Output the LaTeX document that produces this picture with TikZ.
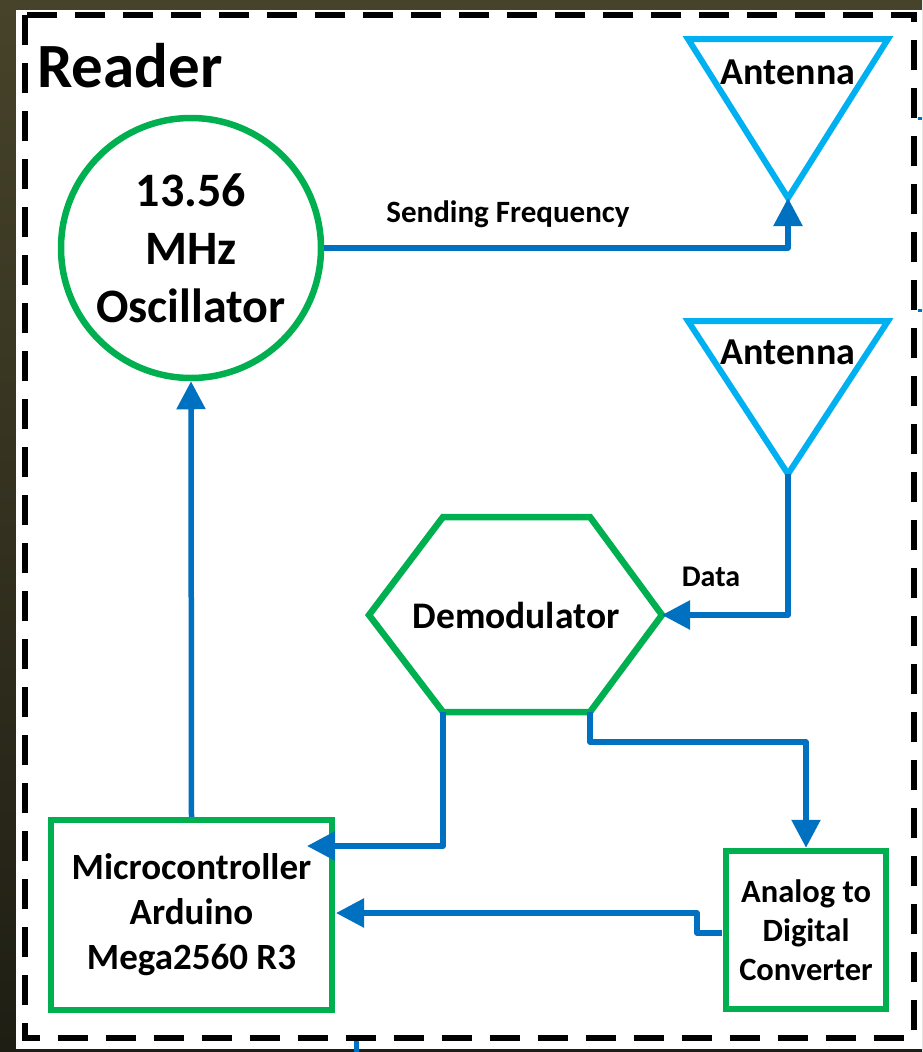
\documentclass[tikz,border=0pt]{standalone}
\usepackage{fontspec}
\setmainfont{Carlito}
\usetikzlibrary{arrows.meta}
\definecolor{boxgreen}{HTML}{00B050}
\definecolor{wireblue}{HTML}{0070C0}
\definecolor{antblue}{HTML}{00B0F0}
\definecolor{olivetop}{HTML}{47432A}
\definecolor{olivebot}{HTML}{1F1E14}
\tikzset{
  block/.style={draw=boxgreen, line width=6.5pt, fill=white, inner sep=0pt, align=center, font=\bfseries},
  antenna/.style={draw=antblue, line width=6pt, line join=miter},
  wire/.style={draw=wireblue, line width=5.5pt, line join=round,
    -{Triangle[length=28pt,width=28pt]}},
  tag/.style={font=\bfseries, inner sep=0pt},
  frame/.style={draw=black, line width=6.5pt, dash pattern=on 30pt off 18pt},
}
\begin{document}
\begin{tikzpicture}[x=1pt,y=-1pt]
% page backdrop and sheet
\shade[top color=olivetop, bottom color=olivebot] (0,0) rectangle (922,1052);
\useasboundingbox (0,0) rectangle (922,1052);
\fill[white] (16,10) rectangle (922,1049);
% stray wire stubs at the sheet edges
\draw[wireblue, line width=3pt] (918,118) -- (922,118);
\draw[wireblue, line width=3pt] (918,310) -- (922,310);
\draw[wireblue, line width=5pt, line cap=round] (356,1042) -- (356,1052);
% dashed reader boundary
\draw[frame] (25,15) rectangle (914,1038);
\node[tag, anchor=west, font=\bfseries\fontsize{63}{70}\selectfont] (title) at (37,66) {Reader};

% oscillator
\node[block, circle, minimum size=260pt, font=\bfseries\fontsize{48}{58}\selectfont] (osc) at (191,248)
  {13.56\\MHz\\Oscillator};

% antennas
\coordinate (a1apex) at (788,198);
\draw[antenna] (688,39) -- (888,39) -- (a1apex) -- cycle;
\node[tag, font=\bfseries\fontsize{38}{40}\selectfont] (a1txt) at (788,72) {Antenna};
\coordinate (a2apex) at (788,474);
\draw[antenna] (688,321) -- (888,321) -- (a2apex) -- cycle;
\node[tag, font=\bfseries\fontsize{38}{40}\selectfont] (a2txt) at (788,352) {Antenna};

% demodulator hexagon
\coordinate (dl) at (369,615);
\coordinate (dtl) at (443,517);
\coordinate (dtr) at (590,517);
\coordinate (dr) at (662,615);
\coordinate (dbr) at (590,712);
\coordinate (dbl) at (443,712);
\draw[draw=boxgreen, line width=6.5pt, line join=miter] (dl) -- (dtl) -- (dtr) -- (dr) -- (dbr) -- (dbl) -- cycle;
\node[tag, font=\bfseries\fontsize{37.5}{40}\selectfont] (demod) at (516,615) {Demodulator};

% microcontroller and converter
\node[block, minimum width=281pt, minimum height=190pt, font=\bfseries\fontsize{37}{45}\selectfont] (mcu) at (191.5,915)
  {Microcontroller\\Arduino\\Mega2560 R3};
\node[block, minimum width=160pt, minimum height=158pt, font=\bfseries\fontsize{32.5}{39}\selectfont] (adc) at (806,930)
  {Analog to\\Digital\\Converter};

% signal paths
\coordinate (mcuin1) at (307,846);
\coordinate (mcuin2) at (336,913);
\coordinate (adcout) at (722,933);
\draw[wire] (osc.east) -- (a1apex |- osc.east) -- (a1apex);
\node[tag, font=\bfseries\fontsize{31}{34}\selectfont] (sendlbl) at (508,214) {Sending Frequency};
\draw[wire] (a2apex) |- (dr);
\node[tag, font=\bfseries\fontsize{30}{34}\selectfont] (datalbl) at (711,577) {Data};
\draw[wire] (dbl) |- (mcuin1);
\draw[wire] (dbr) -- ++(0,30) -| (adc.north);
\draw[wire] (adcout) -- ++(-25,0) |- (mcuin2);
\draw[wire] (mcu.north) -- (osc.south);
\end{tikzpicture}
\end{document}
